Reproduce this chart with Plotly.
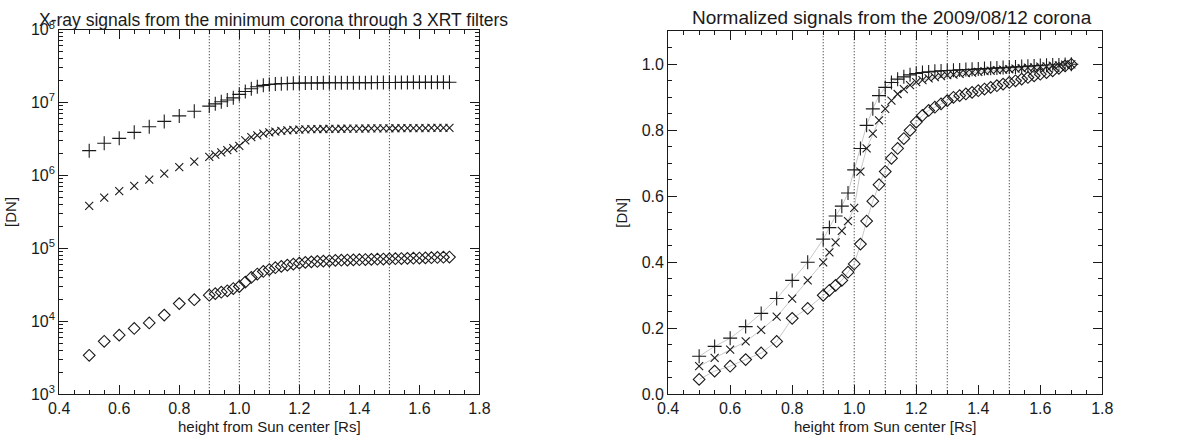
import plotly.graph_objects as go

# ---------------- data ----------------
height = [0.50, 0.55, 0.60, 0.65, 0.70, 0.75, 0.80, 0.85,
          0.90, 0.92, 0.94, 0.96, 0.98, 1.00, 1.02, 1.04, 1.06, 1.08,
          1.10, 1.12, 1.14, 1.16, 1.18, 1.20, 1.22, 1.24, 1.26, 1.28,
          1.30, 1.32, 1.34, 1.36, 1.38, 1.40, 1.42, 1.44, 1.46, 1.48,
          1.50, 1.52, 1.54, 1.56, 1.58, 1.60, 1.62, 1.64, 1.66, 1.68, 1.70]

# raw signals [DN] (left panel)
sig_plus = [2.19e6, 2.76e6, 3.23e6, 3.90e6, 4.66e6, 5.51e6, 6.56e6, 7.60e6,
            8.93e6, 9.60e6, 1.026e7, 1.083e7, 1.159e7, 1.292e7, 1.416e7, 1.549e7, 1.644e7, 1.720e7,
            1.767e7, 1.796e7, 1.815e7, 1.828e7, 1.839e7, 1.847e7, 1.853e7, 1.856e7, 1.860e7, 1.862e7,
            1.864e7, 1.866e7, 1.868e7, 1.870e7, 1.872e7, 1.873e7, 1.875e7, 1.877e7, 1.879e7, 1.881e7,
            1.883e7, 1.885e7, 1.887e7, 1.889e7, 1.891e7, 1.892e7, 1.894e7, 1.896e7, 1.896e7, 1.898e7, 1.900e7]
sig_cross = [3.83e5, 4.95e5, 6.08e5, 7.20e5, 8.78e5, 1.058e6, 1.305e6, 1.553e6,
             1.800e6, 1.935e6, 2.070e6, 2.228e6, 2.363e6, 2.543e6, 3.038e6, 3.353e6, 3.555e6, 3.735e6,
             3.893e6, 4.005e6, 4.095e6, 4.163e6, 4.217e6, 4.257e6, 4.284e6, 4.307e6, 4.325e6, 4.338e6,
             4.352e6, 4.361e6, 4.370e6, 4.379e6, 4.388e6, 4.397e6, 4.406e6, 4.415e6, 4.419e6, 4.428e6,
             4.433e6, 4.442e6, 4.446e6, 4.455e6, 4.460e6, 4.469e6, 4.473e6, 4.482e6, 4.487e6, 4.496e6, 4.500e6]
sig_diam = [3.42e3, 5.32e3, 6.46e3, 7.98e3, 9.50e3, 1.216e4, 1.748e4, 1.976e4,
            2.280e4, 2.394e4, 2.508e4, 2.622e4, 2.812e4, 3.002e4, 3.458e4, 3.990e4, 4.446e4, 4.826e4,
            5.130e4, 5.434e4, 5.662e4, 5.890e4, 6.080e4, 6.270e4, 6.422e4, 6.536e4, 6.612e4, 6.688e4,
            6.764e4, 6.840e4, 6.878e4, 6.916e4, 6.954e4, 6.992e4, 7.030e4, 7.068e4, 7.106e4, 7.144e4,
            7.182e4, 7.220e4, 7.258e4, 7.296e4, 7.334e4, 7.372e4, 7.410e4, 7.448e4, 7.509e4, 7.562e4, 7.600e4]

# normalized signals (right panel)
norm_plus = [0.115, 0.145, 0.170, 0.205, 0.245, 0.290, 0.345, 0.400,
             0.470, 0.505, 0.540, 0.570, 0.610, 0.680, 0.745, 0.815, 0.865, 0.905,
             0.930, 0.945, 0.955, 0.962, 0.968, 0.972, 0.975, 0.977, 0.979, 0.980,
             0.981, 0.982, 0.983, 0.984, 0.985, 0.986, 0.987, 0.988, 0.989, 0.990,
             0.991, 0.992, 0.993, 0.994, 0.995, 0.996, 0.997, 0.998, 0.998, 0.999, 1.000]
norm_cross = [0.085, 0.110, 0.135, 0.160, 0.195, 0.235, 0.290, 0.345,
              0.400, 0.430, 0.460, 0.495, 0.525, 0.565, 0.675, 0.745, 0.790, 0.830,
              0.865, 0.890, 0.910, 0.925, 0.937, 0.946, 0.952, 0.957, 0.961, 0.964,
              0.967, 0.969, 0.971, 0.973, 0.975, 0.977, 0.979, 0.981, 0.982, 0.984,
              0.985, 0.987, 0.988, 0.990, 0.991, 0.993, 0.994, 0.996, 0.997, 0.999, 1.000]
norm_diam = [0.045, 0.070, 0.085, 0.105, 0.125, 0.160, 0.230, 0.260,
             0.300, 0.315, 0.330, 0.345, 0.370, 0.395, 0.455, 0.525, 0.585, 0.635,
             0.675, 0.715, 0.745, 0.775, 0.800, 0.825, 0.845, 0.860, 0.870, 0.880,
             0.890, 0.900, 0.905, 0.910, 0.915, 0.920, 0.925, 0.930, 0.935, 0.940,
             0.945, 0.950, 0.955, 0.960, 0.965, 0.970, 0.975, 0.980, 0.988, 0.995, 1.000]

vlines = [0.9, 1.0, 1.1, 1.2, 1.3, 1.5]

left_title = "X-ray signals from the minimum corona through 3 XRT filters"
right_title = "Normalized signals from the 2009/08/12 corona"
x_title = "height from Sun center [Rs]"
y_title = "[DN]"
log_tickvals = [1e3, 1e4, 1e5, 1e6, 1e7, 1e8]
log_ticktext = ["10<sup>3</sup>", "10<sup>4</sup>", "10<sup>5</sup>",
                "10<sup>6</sup>", "10<sup>7</sup>", "10<sup>8</sup>"]
log_minor = [m * d for d in [1e3, 1e4, 1e5, 1e6, 1e7] for m in [2, 3, 4, 5, 6, 7, 8, 9]]

# ---------------- figure ----------------
FONT = "Liberation Sans"
INK = "#1a1a1a"
fig = go.Figure()

def mk(symbol, size):
    return dict(symbol=symbol, size=size, color=INK,
                line=dict(color=INK, width=1.1))

# left panel: markers only
for ys, sym, sz in [(sig_plus, "cross-thin", 10), (sig_cross, "x-thin", 8),
                    (sig_diam, "diamond-open", 9)]:
    fig.add_trace(go.Scatter(x=height, y=ys, mode="markers",
                             marker=mk(sym, sz), xaxis="x", yaxis="y"))

# right panel: markers + light grey lines
for ys, sym, sz in [(norm_plus, "cross-thin", 10), (norm_cross, "x-thin", 8),
                    (norm_diam, "diamond-open", 9)]:
    fig.add_trace(go.Scatter(x=height, y=ys, mode="lines+markers",
                             line=dict(color="#c8c8c8", width=1),
                             marker=mk(sym, sz), xaxis="x2", yaxis="y2"))

# vertical dotted lines
for xr, yr in [("x", "y"), ("x2", "y2")]:
    for v in vlines:
        fig.add_shape(type="line", xref=xr, yref=yr + " domain", x0=v, x1=v,
                      y0=0, y1=1, line=dict(color=INK, width=1, dash="1px,2px"),
                      layer="below")

tickfont = dict(family=FONT, size=16, color=INK)
titlefont = dict(family=FONT, size=15, color=INK)
axis_common = dict(showline=True, linecolor=INK, linewidth=1, mirror="allticks",
                   ticks="inside", tickcolor=INK, ticklen=9, tickwidth=1,
                   showgrid=False, zeroline=False, tickfont=tickfont)
xaxis_common = dict(axis_common, range=[0.4, 1.8], dtick=0.2, tick0=0.4,
                    tickformat=".1f",
                    minor=dict(ticks="inside", ticklen=4, dtick=0.05, tick0=0.4,
                               tickcolor=INK, showgrid=False),
                    title=dict(text=x_title, font=titlefont, standoff=5))

L0, L1 = 0.0415, 0.4035
R0, R1 = 0.566, 0.940
B = 0.094
LT, RT = 0.956, 0.952

fig.update_layout(
    width=1183, height=443,
    margin=dict(l=0, r=0, t=0, b=0),
    paper_bgcolor="white", plot_bgcolor="white",
    showlegend=False,
    font=dict(family=FONT, color=INK),
    xaxis=dict(xaxis_common, domain=[L0, L1], anchor="y"),
    yaxis=dict(axis_common, type="log", range=[3, 8], domain=[B, LT], anchor="x",
               tickvals=log_tickvals, ticktext=log_ticktext,
               minor=dict(ticks="inside", ticklen=4, tickvals=log_minor,
                          tickcolor=INK, showgrid=False),
               title=dict(text=y_title, font=titlefont, standoff=10)),
    xaxis2=dict(xaxis_common, domain=[R0, R1], anchor="y2"),
    yaxis2=dict(axis_common, range=[0, 1.1], domain=[B, RT], anchor="x2",
                tickvals=[0, 0.2, 0.4, 0.6, 0.8, 1.0], tickformat=".1f",
                minor=dict(ticks="inside", ticklen=4, dtick=0.05, tick0=0,
                           tickcolor=INK, showgrid=False),
                title=dict(text=y_title, font=titlefont, standoff=10)),
    annotations=[
        dict(text=left_title, xref="paper", yref="paper", x=(L0 + L1) / 2 + 0.004, y=1.0,
             xanchor="center", yanchor="top", yshift=3, showarrow=False,
             font=dict(family=FONT, size=17.5, color=INK)),
        dict(text=right_title, xref="paper", yref="paper", x=(R0 + R1) / 2 + 0.006,
             y=0.955, xanchor="center", yanchor="bottom", showarrow=False,
             font=dict(family=FONT, size=19, color=INK)),
    ],
)

fig.write_html("out.html")
